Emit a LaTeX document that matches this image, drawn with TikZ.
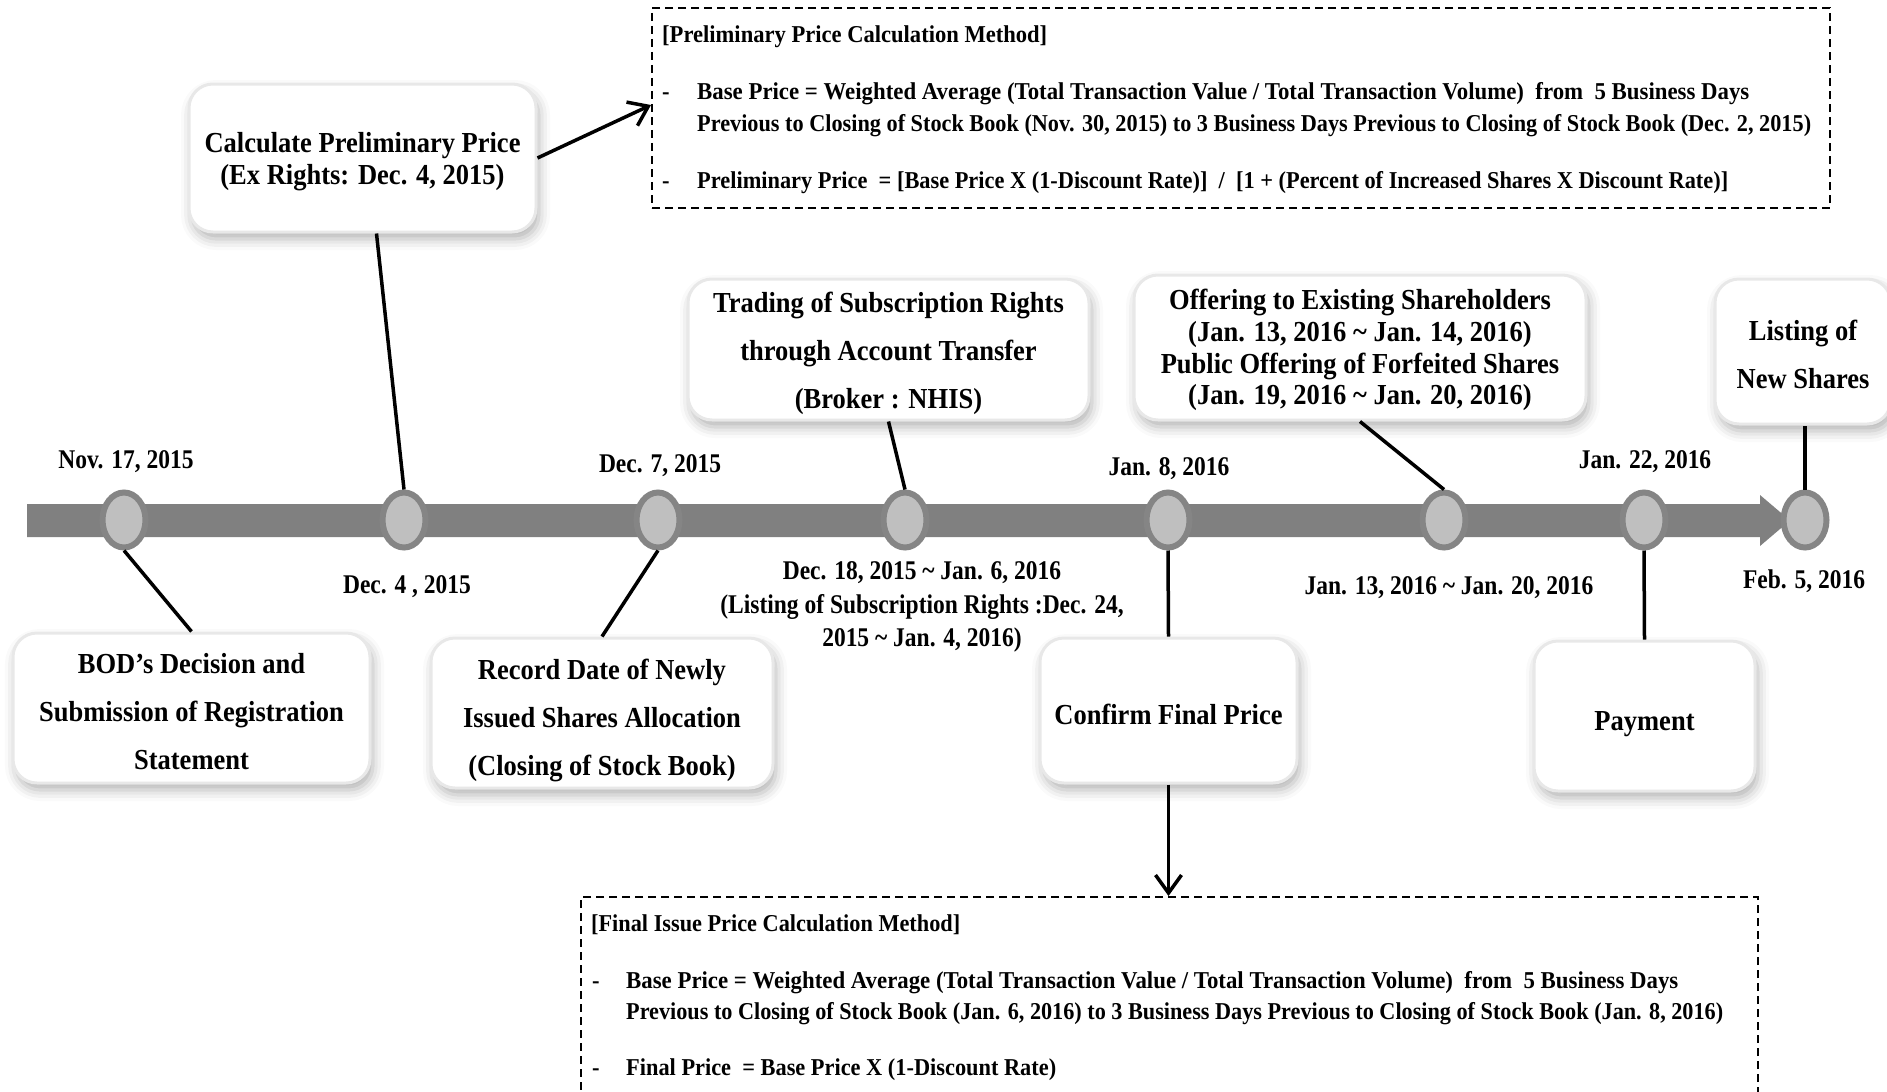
\documentclass[tikz,border=0pt]{standalone}
\usepackage{fontspec}
\setmainfont{Liberation Serif}
\newfontfamily\boxfont{Liberation Serif}[FakeStretch=0.914]
\newfontfamily\datefont{Liberation Serif}[FakeStretch=0.87]
\newfontfamily\methodfont{Liberation Serif}[FakeStretch=0.93]
\usepackage{graphicx}
\usetikzlibrary{arrows.meta,shapes.geometric,shadows.blur,calc}

\definecolor{bargray}{HTML}{808080}
\definecolor{dotfill}{HTML}{BFBFBF}
\definecolor{dotedge}{HTML}{858585}
\definecolor{boxedge}{HTML}{E8E8E8}

\newcommand{\fitline}[2]{\resizebox{#1pt}{\height}{#2}}
\newcommand{\tld}{\textasciitilde{}}

\begin{document}
\begin{tikzpicture}[x=1pt,y=-1pt,
  evbox/.style={draw=boxedge, line width=3pt, fill=white, rounded corners=24pt, inner sep=0pt,
    blur shadow={shadow xshift=3pt, shadow yshift=-7pt, shadow blur radius=11pt, shadow opacity=30}},
  evtext/.style={align=center, inner sep=0pt, font=\boxfont\bfseries\fontsize{29}{48}\selectfont},
  dot/.style={ellipse, draw=dotedge, fill=dotfill, line width=6pt,
    minimum width=43pt, minimum height=55pt, inner sep=0pt},
  datelbl/.style={font=\datefont\bfseries\fontsize{27}{33.5}\selectfont, inner sep=0pt, align=center},
  methodbox/.style={draw=black, line width=2pt, dash pattern=on 8pt off 5pt, inner sep=0pt},
  methodtxt/.style={font=\methodfont\bfseries\fontsize{24.2}{28}\selectfont, inner sep=0pt, anchor=base west},
  link/.style={line width=3.5pt, draw=black},
  linkarrow/.style={link, -{Straight Barb[length=18pt,width=26pt]}}
]
\useasboundingbox (0,0) rectangle (1887,1092);
\clip (0,0) rectangle (1887,1092);

% timeline bar with arrow head
\fill[bargray] (27,504) -- (1760,504) -- (1760,495) -- (1790,520.5) -- (1760,546)
  -- (1760,537) -- (27,537) -- cycle;

% event dots
\node[dot] (dot1) at (124,520) {};
\node[dot] (dot2) at (404,520) {};
\node[dot] (dot3) at (658,520) {};
\node[dot] (dot4) at (905,520) {};
\node[dot] (dot5) at (1168,520) {};
\node[dot] (dot6) at (1444,520) {};
\node[dot] (dot7) at (1644,520) {};
\node[dot] (dot8) at (1805,520) {};

% date labels
\node[datelbl, anchor=base] (l1) at (126,468) {Nov. 17, 2015};
\node[datelbl, anchor=base] (l2) at (407,593) {Dec. 4 , 2015};
\node[datelbl, anchor=base] (l3) at (660,472) {Dec. 7, 2015};
\node[datelbl] (l4) at (922,607) {Dec. 18, 2015 \tld\ Jan. 6, 2016\\(Listing of Subscription Rights :Dec. 24,\\2015 \tld\ Jan. 4, 2016)};
\node[datelbl, anchor=base] (l5) at (1169,475) {Jan. 8, 2016};
\node[datelbl, anchor=base] (l6) at (1449,594) {Jan. 13, 2016 \tld\ Jan. 20, 2016};
\node[datelbl, anchor=base] (l7) at (1645,468) {Jan. 22, 2016};
\node[datelbl, anchor=base] (l8) at (1804,588) {Feb. 5, 2016};

% event boxes
\node[evbox, minimum width=347pt, minimum height=148pt] (calc) at (362.5,158) {};
\node[evbox, minimum width=401pt, minimum height=141pt] (trade) at (888.5,349.5) {};
\node[evbox, minimum width=452pt, minimum height=145pt] (offer) at (1360,347.5) {};
\node[evbox, minimum width=176pt, minimum height=145pt] (listing) at (1803,351.5) {};
\node[evbox, minimum width=357pt, minimum height=150pt] (bod) at (191.5,708) {};
\node[evbox, minimum width=342pt, minimum height=150pt] (record) at (602,713) {};
\node[evbox, minimum width=257pt, minimum height=145pt] (confirm) at (1168.5,710.5) {};
\node[evbox, minimum width=221pt, minimum height=150pt] (pay) at (1644.5,716) {};

% event box texts
\node[evtext, font=\boxfont\bfseries\fontsize{29}{32}\selectfont] (calctxt) at (362.5,161.6)
  {Calculate Preliminary Price\\(Ex Rights: Dec. 4, 2015)};
\node[evtext] (tradetxt) at (888.5,353)
  {Trading of Subscription Rights\\through Account Transfer\\(Broker : NHIS)};
\node[evtext, font=\boxfont\bfseries\fontsize{29}{31.7}\selectfont] (offertxt) at (1360,350.3)
  {Offering to Existing Shareholders\\(Jan. 13, 2016 \tld\ Jan. 14, 2016)\\Public Offering of Forfeited Shares\\(Jan. 19, 2016 \tld\ Jan. 20, 2016)};
\node[evtext] (listingtxt) at (1803,354) {Listing of\\New Shares};
\node[evtext] (bodtxt) at (191.5,711.6) {BOD’s Decision and\\Submission of Registration\\Statement};
\node[evtext] (recordtxt) at (602,720.2) {Record Date of Newly\\Issued Shares Allocation\\(Closing of Stock Book)};
\node[evtext] (confirmtxt) at (1168.5,714) {Confirm Final Price};
\node[evtext] (paytxt) at (1644.5,724.4) {Payment};

% method boxes
\node[methodbox, minimum width=1178pt, minimum height=200pt] (prelim) at (1241,108) {};
\node[methodbox, minimum width=1177pt, minimum height=230pt] (final) at (1169.5,1012) {};

\node[methodtxt] (ptitle) at (662,42) {\fitline{385}{[Preliminary Price Calculation Method]}};
\node[methodtxt] (pb1) at (662,99) {-};
\node[methodtxt] (pl1) at (697,99) {\fitline{1052}{Base Price = Weighted Average (Total Transaction Value / Total Transaction Volume)\ \ from\ \ 5 Business Days}};
\node[methodtxt] (pl2) at (697,131) {\fitline{1114}{Previous to Closing of Stock Book (Nov. 30, 2015) to 3 Business Days Previous to Closing of Stock Book (Dec. 2, 2015)}};
\node[methodtxt] (pb2) at (662,188) {-};
\node[methodtxt] (pl3) at (697,188) {\fitline{1031}{Preliminary Price\ \ = [Base Price X (1-Discount Rate)]\ \ /\ \ [1 + (Percent of Increased Shares X Discount Rate)]}};

\node[methodtxt] (ftitle) at (591,931) {\fitline{369}{[Final Issue Price Calculation Method]}};
\node[methodtxt] (fb1) at (592,988) {-};
\node[methodtxt] (fl1) at (626,988) {\fitline{1052}{Base Price = Weighted Average (Total Transaction Value / Total Transaction Volume)\ \ from\ \ 5 Business Days}};
\node[methodtxt] (fl2) at (626,1019) {\fitline{1097}{Previous to Closing of Stock Book (Jan. 6, 2016) to 3 Business Days Previous to Closing of Stock Book (Jan. 8, 2016)}};
\node[methodtxt] (fb2) at (592,1075) {-};
\node[methodtxt] (fl3) at (626,1075) {\fitline{430}{Final Price\ \ = Base Price X (1-Discount Rate)}};

% connectors
\draw[link] (dot1.south) -- (bod.north);
\draw[link] (dot2.north) -- ($(calc.south)+(14,0)$);
\draw[link] (dot3.south) -- (record.north);
\draw[link] (dot4.north) -- (trade.south);
\draw[link] (dot5.south) -- (confirm.north);
\draw[link] (dot6.north) -- (offer.south);
\draw[link] (dot7.south) -- (pay.north);
\draw[link] (dot8.north) -- (dot8.north |- listing.south);
\draw[linkarrow] (calc.east) -- ($(prelim.west)+(0,-3)$);
\draw[linkarrow] (confirm.south) -- (confirm.south |- final.north);
\end{tikzpicture}
\end{document}
